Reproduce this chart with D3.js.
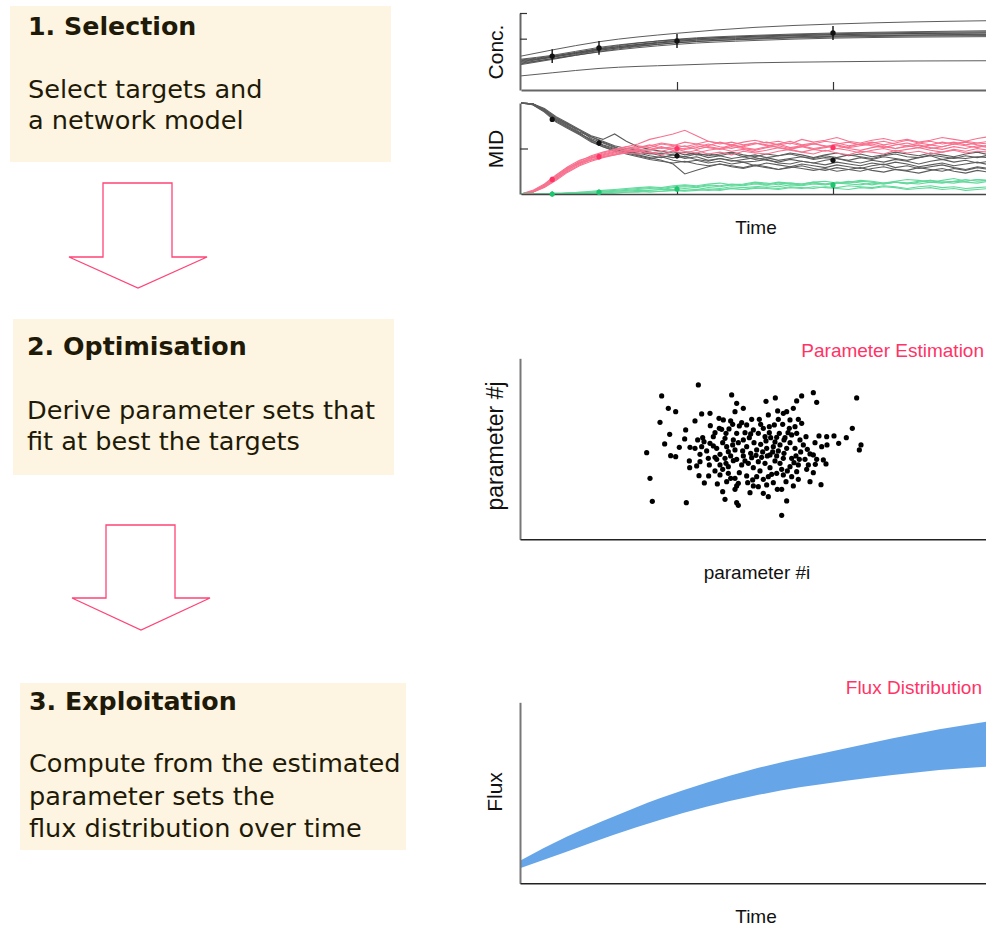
<!DOCTYPE html>
<html>
<head>
<meta charset="utf-8">
<style>
  html, body { margin: 0; padding: 0; background: #fff; }
  svg { display: block; }
  .box-title { font-family: "DejaVu Sans", sans-serif; font-weight: bold; font-size: 25.3px; fill: #1f1a08; }
  .box-body { font-family: "DejaVu Sans", sans-serif; font-size: 25.6px; fill: #1f1a08; }
  .lbl { font-family: "Liberation Sans", Arial, sans-serif; font-size: 19px; fill: #111; }
  .ttl { font-family: "Liberation Sans", Arial, sans-serif; font-size: 19px; fill: #ff3366; }
</style>
<script src="https://cdn.jsdelivr.net/npm/d3@7"></script>
</head>
<body>
<svg id="fig" width="986" height="928"></svg>
<script>
/* Three-step workflow figure: text boxes with arrows on the left,
   small illustrative plots (concentration / MID traces, parameter
   scatter, flux band) on the right. */

// ---- step boxes ----
const stepTitles = ["1. Selection", "2. Optimisation", "3. Exploitation"];
const stepLines = [
  ["Select targets and", "a network model"],
  ["Derive parameter sets that", "fit at best the targets"],
  ["Compute from the estimated", "parameter sets the", "flux distribution over time"]
];

// ---- concentration curves (time 0..30) ----
const concTimes = [0, 2, 5, 10, 15, 20, 25, 30];
const concCurves = [
  [1.32, 1.56, 1.88, 2.21, 2.44, 2.57, 2.65, 2.70],
  [1.14, 1.30, 1.62, 1.98, 2.13, 2.22, 2.27, 2.31],
  [1.20, 1.35, 1.66, 1.96, 2.09, 2.16, 2.20, 2.22],
  [1.08, 1.27, 1.58, 1.93, 2.10, 2.19, 2.24, 2.27],
  [1.17, 1.32, 1.60, 1.89, 2.03, 2.11, 2.15, 2.17],
  [1.02, 1.22, 1.54, 1.90, 2.06, 2.15, 2.20, 2.23],
  [1.11, 1.28, 1.55, 1.84, 1.98, 2.06, 2.10, 2.12],
  [0.99, 1.19, 1.50, 1.84, 2.00, 2.09, 2.13, 2.15],
  [1.05, 1.22, 1.48, 1.78, 1.93, 2.02, 2.06, 2.08],
  [0.55, 0.67, 0.84, 0.97, 1.06, 1.10, 1.13, 1.14]
];
const obsTimes = [2, 5, 10, 20];
const concObs = [1.32, 1.64, 1.91, 2.22];
const concErr = [0.27, 0.27, 0.27, 0.27];

// ---- MID traces (percent), sampled every 0.75 time units ----
const midTimes = [0, 0.75, 1.5, 2.25, 3, 3.75, 4.5, 5.25, 6, 6.75, 7.5, 8.25, 9, 9.75, 10.5, 11.25,
  12, 12.75, 13.5, 14.25, 15, 15.75, 16.5, 17.25, 18, 18.75, 19.5, 20.25, 21, 21.75, 22.5, 23.25,
  24, 24.75, 25.5, 26.25, 27, 27.75, 28.5, 29.25, 30];
const midGray = [
  [100,99,93,82,76,70,61,56,51,48,47,44,45,43,41,44,40,42,39,41,38,40,37,39,41,38,40,39,37,40,38,41,39,37,40,42,38,40,39,41,40],
  [100,98,91,80,73,66,60,53,49,46,44,45,42,40,41,38,36,39,37,35,36,38,34,33,36,34,32,35,33,31,34,32,35,33,30,32,34,31,33,35,32],
  [100,99,92,83,77,68,63,57,52,46,43,40,37,33,22,26,30,33,31,29,32,30,27,29,31,28,26,29,27,25,28,30,27,26,29,27,25,28,26,29,27],
  [100,99,94,85,78,71,64,60,66,58,52,49,47,45,46,43,44,42,45,41,43,40,42,44,41,39,42,40,43,41,39,42,44,41,40,43,41,39,42,40,43],
  [100,98,90,79,72,65,57,52,47,45,42,39,41,37,35,37,34,36,33,35,31,34,32,30,33,31,29,32,30,28,31,33,29,31,28,30,32,29,27,30,28],
  [100,99,92,81,74,67,59,54,50,47,45,42,40,43,39,41,37,39,36,38,40,37,35,38,36,34,37,39,36,34,37,35,38,36,33,36,38,35,37,34,36],
  [100,99,91,82,75,67,58,52,48,44,41,38,36,34,36,33,31,33,30,28,31,29,27,30,28,26,28,25,27,29,26,24,27,25,23,26,28,25,23,26,24],
  [100,99,93,84,77,70,63,58,53,50,48,46,44,47,43,45,42,44,46,43,41,44,42,45,43,40,43,45,42,44,41,43,46,44,42,45,43,41,44,46,43]
];
const midPink = [
  [0,2,8,17,25,32,38,41,44,47,49,48,51,50,53,49,52,50,54,51,49,52,55,51,53,50,52,54,51,53,55,52,50,53,51,54,52,55,53,51,54],
  [0,3,10,19,28,35,40,44,47,52,55,60,63,66,70,64,58,55,57,54,56,53,55,58,54,56,52,55,57,54,56,58,55,53,56,58,55,57,54,56,58],
  [0,2,7,15,24,31,36,40,43,45,44,46,43,47,45,48,44,46,43,47,45,44,47,49,46,44,48,45,43,47,46,44,48,45,47,44,46,48,45,47,46],
  [0,4,11,21,30,37,41,45,48,50,53,51,55,53,57,55,58,56,54,57,59,56,58,55,60,57,59,62,58,56,59,61,58,60,57,59,62,60,58,61,63],
  [0,3,9,18,27,33,39,43,46,48,46,49,52,48,50,53,51,49,52,50,48,51,53,50,52,49,51,53,50,48,51,53,50,52,54,51,49,52,50,53,51],
  [0,2,8,16,26,34,40,42,45,49,51,54,50,52,49,51,55,52,50,53,56,54,51,49,52,55,53,50,52,55,53,51,54,56,53,50,52,55,57,54,52],
  [0,3,10,20,29,34,37,41,43,46,48,45,47,50,47,45,48,50,47,49,46,48,51,48,46,49,47,50,48,45,48,50,47,49,51,48,46,49,47,50,48],
  [0,2,9,18,28,36,42,46,49,52,50,53,56,54,52,55,53,57,54,52,55,57,54,56,53,55,58,56,53,55,57,54,56,59,56,54,57,55,58,56,55]
];
const midGreen = [
  [0,0,0,0,1,1,2,2,3,3,4,4,5,5,6,5,7,6,8,7,8,9,8,10,9,11,10,12,11,10,12,11,13,12,11,13,12,14,13,12,14],
  [0,0,0,1,1,2,2,3,4,5,6,7,6,8,9,8,10,9,11,10,12,11,13,12,11,13,14,12,13,15,14,12,14,16,15,13,15,17,14,16,15],
  [0,0,0,0,0,1,1,1,2,2,3,2,3,4,3,4,5,4,6,5,6,7,6,8,7,6,8,7,9,8,7,9,8,6,8,9,7,8,6,7,8],
  [0,0,0,0,1,2,3,4,5,6,7,8,7,9,10,9,11,12,10,11,13,12,10,12,11,13,11,12,14,12,10,12,13,11,13,15,13,12,14,16,14],
  [0,0,0,0,0,0,1,1,1,2,2,3,3,4,4,5,4,5,6,5,7,6,5,7,6,8,7,6,5,7,6,8,7,5,6,7,5,6,4,5,6],
  [0,0,0,0,1,1,2,3,3,4,5,6,5,7,8,7,9,8,10,9,11,10,12,11,10,12,11,13,12,14,13,11,13,12,14,15,13,14,16,14,15]
];
const midObsGray = [82, 56, 42, 37];
const midObsPink = [16, 41, 50, 51];
const midObsGreen = [0, 2, 5.5, 10];
const midErr = 3;

// ---- parameter scatter (param #i, param #j) ----
const paramPts = [
  [655,463],[545,430],[755,433],[1000,440],[965,430],[1130,424],[858,414],[886,424],[950,415],[1010,411],
  [565,393],[587,383],[770,408],[790,393],[765,383],[665,376],[690,378],[893,385],[910,378],[920,383],
  [940,393],[540,351],[645,355],[717,363],[730,358],[785,350],[800,343],[815,360],[838,360],[865,373],
  [883,343],[930,358],[955,360],[965,348],[945,338],[1117,333],[617,328],[569,315],[691,341],[718,333],
  [747,331],[770,318],[820,328],[850,333],[868,338],[908,345],[928,333],[554,286],[614,301],[598,276],
  [653,298],[672,293],[700,308],[735,303],[760,298],[790,298],[812,316],[835,318],[855,308],[890,306],
  [912,298],[935,313],[960,298],[978,308],[1017,310],[1040,308],[1062,310],[1099,305],[1076,288],[1143,283],
  [1138,268],[1025,278],[1041,283],[500,260],[572,251],[587,248],[630,276],[645,273],[665,278],[690,288],
  [710,273],[740,278],[765,268],[800,278],[830,268],[860,273],[880,278],[900,283],[920,273],[945,273],
  [970,283],[990,256],[1000,253],[628,235],[660,233],[685,243],[705,246],[735,243],[760,236],[790,250],
  [815,245],[845,246],[870,253],[890,250],[910,243],[935,243],[975,240],[629,215],[688,223],[720,223],
  [745,218],[785,223],[805,228],[835,233],[855,228],[900,228],[930,218],[955,223],[985,223],[1006,225],
  [1038,226],[1030,238],[510,183],[657,191],[686,190],[720,193],[745,198],[765,183],[800,190],[830,188],
  [865,188],[890,198],[910,193],[935,188],[950,203],[1000,200],[673,169],[712,166],[740,173],[775,168],
  [803,170],[835,158],[860,163],[918,173],[940,160],[990,173],[1023,164],[728,143],[765,150],[810,140],
  [850,138],[892,150],[517,114],[619,110],[735,120],[770,110],[775,102],[865,128],[920,115],[905,72],
  [725,330],[738,318],[752,355],[778,340],[795,320],[808,305],[822,290],[842,285],[858,295],[872,305],
  [885,292],[898,318],[915,305],[728,290],[745,263],[758,283],[775,290],[788,265],[812,258],[828,252],
  [848,262],[862,250],[878,262],[895,265],[912,258],[930,290],[948,250],[962,262],[720,255],[738,228],
  [752,250],[770,240],[795,235],[820,215],[840,205],[870,215],[885,235],[905,210],[922,205],[942,230],
  [958,240],[705,205],[728,210],[752,183],[778,200],[818,178],[850,180],[875,195],[700,280],[680,265],
  [668,305],[705,320],[758,345],[842,345],[868,320],[895,360],[924,320],[950,318],[982,270],[1005,290],
  [660,255],[650,220],[710,240],[980,210],[1010,240],[770,160],[820,160],[880,170],[905,150],[955,180]
];

// ---- flux band ----
const fluxTimes = [0, 3, 6, 9, 12, 15, 18, 21, 24, 27, 30];
const fluxHigh = [1.25, 2.57, 3.68, 4.70, 5.56, 6.30, 6.91, 7.46, 8.01, 8.51, 8.93];
const fluxLow = [0.83, 1.75, 2.67, 3.50, 4.23, 4.82, 5.30, 5.67, 5.98, 6.26, 6.44];

(function () {
  const svg = d3.select("#fig");

  /* --- left column: boxes + arrows --- */
  const boxes = [
    { x: 10, y: 6, w: 381, h: 156, tx: 28, ty: 35, by: 98, lh: 31 },
    { x: 13, y: 319, w: 381, h: 156, tx: 27, ty: 355, by: 419, lh: 31 },
    { x: 20, y: 683, w: 386, h: 167, tx: 29, ty: 710, by: 772, lh: 32.5 }
  ];
  boxes.forEach((b, k) => {
    svg.append("rect").attr("x", b.x).attr("y", b.y).attr("width", b.w).attr("height", b.h)
      .attr("fill", "#fdf5e2");
    svg.append("text").attr("class", "box-title").attr("x", b.tx).attr("y", b.ty).text(stepTitles[k]);
    stepLines[k].forEach((s, i) => {
      svg.append("text").attr("class", "box-body").attr("x", b.tx).attr("y", b.by + i * b.lh).text(s);
    });
  });

  const arrows = [
    { l: 103, r: 172, top: 183, neck: 257, hl: 69, hr: 207, tip: 288 },
    { l: 106, r: 175, top: 525, neck: 598, hl: 72, hr: 210, tip: 630 }
  ];
  arrows.forEach(a => {
    const cx = (a.hl + a.hr) / 2;
    const pts = [[a.l, a.top], [a.r, a.top], [a.r, a.neck], [a.hr, a.neck], [cx, a.tip], [a.hl, a.neck], [a.l, a.neck]];
    svg.append("path").attr("d", d3.line()(pts) + "Z")
      .attr("fill", "#fff").attr("stroke", "#ff4477").attr("stroke-width", 1.3);
  });

  /* --- shared helpers --- */
  const timeX = d3.scaleLinear().domain([0, 30]).range([521, 989]);

  function styleAxis(g, color, width) {
    g.select(".domain").attr("stroke", color).attr("stroke-width", width);
    g.selectAll(".tick line").attr("stroke", "#333").attr("stroke-width", 1.2);
  }

  function vLabel(text, x, y, size) {
    svg.append("text").attr("class", "lbl").attr("text-anchor", "middle")
      .style("font-size", size + "px")
      .attr("transform", `translate(${x},${y}) rotate(-90)`).text(text);
  }

  /* --- Conc. panel --- */
  const concY = d3.scaleLinear().domain([0, 3]).range([90, 13]);
  const concLine = d3.line().x((d, i) => timeX(concTimes[i])).y(d => concY(d)).curve(d3.curveMonotoneX);
  svg.append("g").selectAll("path").data(concCurves).join("path")
    .attr("d", concLine).attr("fill", "none").attr("stroke", "#4a4a4a").attr("stroke-width", 0.9);

  svg.append("g").attr("transform", "translate(520,0)")
    .call(d3.axisLeft(concY).tickValues([2, 3]).tickSizeInner(-7).tickSizeOuter(0).tickFormat(""))
    .call(g => styleAxis(g, "#666", 2));
  svg.append("g").attr("transform", "translate(0,90)")
    .call(d3.axisBottom(timeX).tickValues([10, 20]).tickSizeInner(-8).tickSizeOuter(0).tickFormat(""))
    .call(g => styleAxis(g, "#666", 2));

  const concObsG = svg.append("g");
  obsTimes.forEach((t, i) => {
    concObsG.append("line").attr("x1", timeX(t)).attr("x2", timeX(t))
      .attr("y1", concY(concObs[i] - concErr[i])).attr("y2", concY(concObs[i] + concErr[i]))
      .attr("stroke", "#111").attr("stroke-width", 1.4);
    concObsG.append("circle").attr("cx", timeX(t)).attr("cy", concY(concObs[i])).attr("r", 2.7).attr("fill", "#111");
  });
  vLabel("Conc.", 503, 52, 21);

  /* --- MID panel --- */
  const midY = d3.scaleLinear().domain([0, 100]).range([194, 103]);
  const midLine = d3.line().x((d, i) => timeX(midTimes[i])).y(d => midY(d));
  const traceSets = [[midGray, "#5c5c5c"], [midPink, "#f7728f"], [midGreen, "#62d99c"]];
  traceSets.forEach(([set, col]) => {
    svg.append("g").selectAll("path").data(set).join("path")
      .attr("d", midLine).attr("fill", "none").attr("stroke", col).attr("stroke-width", 1.1);
  });

  svg.append("g").attr("transform", "translate(520,0)")
    .call(d3.axisLeft(midY).tickValues([50]).tickSizeInner(-8).tickSizeOuter(0).tickFormat(""))
    .call(g => styleAxis(g, "#666", 2));
  svg.append("g").attr("transform", "translate(0,194)")
    .call(d3.axisBottom(timeX).tickValues([10, 20]).tickSizeInner(-7).tickSizeOuter(0).tickFormat(""))
    .call(g => styleAxis(g, "#444", 1.6));

  const obsSets = [[midObsGray, "#111"], [midObsPink, "#ff3366"], [midObsGreen, "#1fc46f"]];
  obsSets.forEach(([vals, col]) => {
    const g = svg.append("g");
    obsTimes.forEach((t, i) => {
      g.append("line").attr("x1", timeX(t)).attr("x2", timeX(t))
        .attr("y1", midY(vals[i] - midErr)).attr("y2", midY(vals[i] + midErr))
        .attr("stroke", col).attr("stroke-width", 1.4);
      g.append("circle").attr("cx", timeX(t)).attr("cy", midY(vals[i])).attr("r", 2.6).attr("fill", col);
    });
  });
  vLabel("MID", 503, 149, 21);
  svg.append("text").attr("class", "lbl").attr("text-anchor", "middle").attr("x", 756).attr("y", 234).text("Time");

  /* --- Parameter scatter --- */
  const pX = d3.scaleLinear().domain([120, 1518]).range([520, 986]);
  const pY = d3.scaleLinear().domain([0, 543]).range([539.3, 358.3]);
  svg.append("g").selectAll("circle").data(paramPts).join("circle")
    .attr("cx", d => pX(d[0])).attr("cy", d => pY(d[1])).attr("r", 2.6).attr("fill", "#000");

  svg.append("g").attr("transform", "translate(520,0)")
    .call(d3.axisLeft(pY).tickValues([]).tickSizeOuter(0))
    .call(g => styleAxis(g, "#777", 2));
  svg.append("g").attr("transform", "translate(0,539.3)")
    .call(d3.axisBottom(pX).tickValues([]).tickSizeOuter(0))
    .call(g => styleAxis(g, "#222", 1.5));

  svg.append("text").attr("class", "ttl").attr("text-anchor", "end").attr("x", 984).attr("y", 357).text("Parameter Estimation");
  vLabel("parameter #j", 503, 446, 23);
  svg.append("text").attr("class", "lbl").attr("text-anchor", "middle").attr("x", 757).attr("y", 579).text("parameter #i");

  /* --- Flux band --- */
  const fY = d3.scaleLinear().domain([0, 10]).range([883.3, 702.3]);
  const fX = d3.scaleLinear().domain([0, 30]).range([520, 986]);
  const band = d3.area()
    .x((d, i) => fX(fluxTimes[i]))
    .y0((d, i) => fY(fluxLow[i]))
    .y1(d => fY(d))
    .curve(d3.curveMonotoneX);
  svg.append("path").datum(fluxHigh).attr("d", band).attr("fill", "#66a6e8");

  svg.append("g").attr("transform", "translate(520,0)")
    .call(d3.axisLeft(fY).tickValues([]).tickSizeOuter(0))
    .call(g => styleAxis(g, "#777", 2));
  svg.append("g").attr("transform", "translate(0,883.3)")
    .call(d3.axisBottom(fX).tickValues([]).tickSizeOuter(0))
    .call(g => styleAxis(g, "#222", 1.5));

  svg.append("text").attr("class", "ttl").attr("text-anchor", "end").attr("x", 982).attr("y", 694).text("Flux Distribution");
  vLabel("Flux", 502, 792, 21);
  svg.append("text").attr("class", "lbl").attr("text-anchor", "middle").attr("x", 756).attr("y", 923).text("Time");
})();
</script>
</body>
</html>
